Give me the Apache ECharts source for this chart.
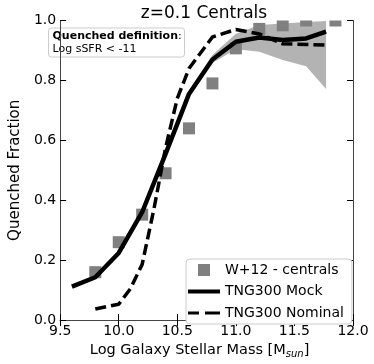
<!DOCTYPE html>
<html>
<head>
<meta charset="utf-8">
<script src="https://cdn.jsdelivr.net/npm/echarts@6.0.0/dist/echarts.min.js"></script>
<style>
  html, body { margin: 0; padding: 0; background: #fff; }
  #chart { width: 374px; height: 364px; }
</style>
</head>
<body>
<div id="chart"></div>
<script>
// W+12 centrals (squares)
const obsMass = [9.8, 10.0, 10.2, 10.4, 10.6, 10.8, 11.0, 11.2, 11.4, 11.6, 11.85];
const obsFrac = [0.16, 0.26, 0.352, 0.49, 0.64, 0.79, 0.907, 0.972, 0.984, 1.0, 1.0];

// TNG300 Mock (solid)
const mockMass = [9.6, 9.8, 10.0, 10.2, 10.4, 10.6, 10.8, 11.0, 11.2, 11.4, 11.6, 11.77];
const mockFrac = [0.112, 0.143, 0.224, 0.36, 0.555, 0.755, 0.87, 0.929, 0.943, 0.935, 0.94, 0.963];

// TNG300 Nominal (dashed)
const nomMass = [9.8, 10.0, 10.1, 10.2, 10.3, 10.4, 10.5, 10.6, 10.8, 11.0, 11.2, 11.4, 11.6, 11.77];
const nomFrac = [0.037, 0.053, 0.105, 0.186, 0.37, 0.575, 0.74, 0.84, 0.945, 0.97, 0.955, 0.922, 0.92, 0.918];

// shaded scatter band around the mock
const bandMass = [10.6, 10.8, 11.0, 11.2, 11.4, 11.6, 11.77];
const bandLow = [0.75, 0.858, 0.904, 0.896, 0.868, 0.847, 0.771];
const bandHigh = [0.765, 0.885, 0.956, 0.985, 0.99, 0.995, 0.998];

const xTicks = [9.5, 10.0, 10.5, 11.0, 11.5, 12.0];
const yTicks = [0.0, 0.2, 0.4, 0.6, 0.8, 1.0];

const font = "DejaVu Sans";
const chart = echarts.init(document.getElementById("chart"));

function pairs(xs, ys) {
  return xs.map((x, i) => [x, ys[i]]);
}

function axisBase(show) {
  return {
    axisLine: { show: true, lineStyle: { color: "#444", width: 1 } },
    axisTick: { show: true, inside: true, length: 6, lineStyle: { color: "#000", width: 1 } },
    axisLabel: {
      show: show,
      color: "#000",
      fontFamily: font,
      fontSize: 14,
      margin: 4,
      formatter: (v) => v.toFixed(1),
    },
    splitLine: { show: false },
  };
}

const xRange = { type: "value", min: xTicks[0], max: xTicks[xTicks.length - 1], interval: 0.5 };
const yRange = { type: "value", min: yTicks[0], max: yTicks[yTicks.length - 1], interval: 0.2 };

// legend icons (32x12 box, with corner points so the box is not stretched)
const box = "M0,0L0,0M32,12L32,12";
const iconSquare = "path://" + box + "M10,0H22V12H10Z";
const iconSolid = "path://" + box + "M0,4H32V8H0Z";
const iconDashed = "path://" + box + "M0,4.5H11V7.5H0ZM17,4.5H32V7.5H17Z";

chart.setOption({
  animation: false,
  backgroundColor: "#fff",
  title: {
    text: "z=0.1 Centrals",
    left: 199,
    top: 0,
    textAlign: "center",
    textStyle: { fontFamily: font, fontSize: 17, fontWeight: "normal", color: "#000" },
  },
  grid: { left: 45, right: 21, top: 20.5, bottom: 37 },
  xAxis: [
    Object.assign({}, xRange, axisBase(true), {
      position: "bottom",
      name: "Log Galaxy Stellar Mass [M{sub|sun}]",
      nameLocation: "middle",
      nameGap: 20,
      nameTextStyle: {
        fontFamily: font,
        fontSize: 14.5,
        color: "#000",
        padding: [0, 14, 0, 0],
        rich: { sub: { fontFamily: font, fontSize: 10, fontStyle: "italic", padding: [7, 0, 0, 0] } },
      },
    }),
    Object.assign({}, xRange, axisBase(false), { position: "top" }),
  ],
  yAxis: [
    Object.assign({}, yRange, axisBase(true), {
      position: "left",
      name: "Quenched Fraction",
      nameLocation: "middle",
      nameGap: 30,
      nameTextStyle: { fontFamily: font, fontSize: 15, color: "#000" },
    }),
    Object.assign({}, yRange, axisBase(false), { position: "right" }),
  ],
  legend: {
    orient: "vertical",
    left: 186,
    top: 259,
    padding: [4, 8, 4, 2],
    itemWidth: 32,
    itemHeight: 12,
    itemGap: 7.5,
    backgroundColor: "#fff",
    borderColor: "#ccc",
    borderWidth: 1,
    borderRadius: 4,
    textStyle: { fontFamily: font, fontSize: 14, color: "#000" },
    data: [
      { name: "W+12 - centrals", icon: iconSquare },
      { name: "TNG300 Mock", icon: iconSolid },
      { name: "TNG300 Nominal", icon: iconDashed },
    ],
  },
  graphic: [
    {
      type: "group",
      left: 48,
      top: 27.5,
      children: [
        {
          type: "rect",
          shape: { x: 0, y: 0, width: 136, height: 29, r: 3 },
          style: { fill: "#fff", stroke: "#ccc", lineWidth: 1 },
        },
        {
          type: "text",
          x: 4,
          y: 2,
          style: {
            text: "{b|Quenched definition}:\nLog sSFR < -11",
            fontFamily: font,
            fontSize: 11,
            lineHeight: 13,
            fill: "#000",
            rich: { b: { fontFamily: font, fontSize: 11, fontWeight: "bold", lineHeight: 13 } },
          },
        },
      ],
    },
  ],
  series: [
    {
      type: "custom",
      name: "band",
      z: 1,
      silent: true,
      data: bandMass.map((x, i) => [x, bandLow[i], bandHigh[i]]),
      renderItem: (params, api) => {
        if (params.dataIndex !== 0) return;
        const pts = [];
        bandMass.forEach((x, i) => pts.push(api.coord([x, bandHigh[i]])));
        for (let i = bandMass.length - 1; i >= 0; i--) pts.push(api.coord([bandMass[i], bandLow[i]]));
        return { type: "polygon", shape: { points: pts }, style: { fill: "#b3b3b3" } };
      },
    },
    {
      // squares, clipped to the plot box like the original
      type: "custom",
      name: "W+12 - centrals",
      z: 2,
      itemStyle: { color: "#808080" },
      data: pairs(obsMass, obsFrac),
      renderItem: (params, api) => {
        const c = api.coord([api.value(0), api.value(1)]);
        const cs = params.coordSys;
        const r = echarts.graphic.clipRectByRect(
          { x: c[0] - 6, y: c[1] - 6, width: 12, height: 12 },
          { x: cs.x, y: cs.y, width: cs.width, height: cs.height }
        );
        if (!r) return;
        return { type: "rect", shape: r, style: { fill: "#808080" } };
      },
    },
    {
      type: "line",
      name: "TNG300 Mock",
      z: 3,
      symbol: "none",
      lineStyle: { color: "#000", width: 4.5 },
      itemStyle: { color: "#000" },
      data: pairs(mockMass, mockFrac),
    },
    {
      type: "line",
      name: "TNG300 Nominal",
      z: 3,
      symbol: "none",
      lineStyle: { color: "#000", width: 3.5, type: [11, 5] },
      itemStyle: { color: "#000" },
      data: pairs(nomMass, nomFrac),
    },
  ],
});
</script>
</body>
</html>
